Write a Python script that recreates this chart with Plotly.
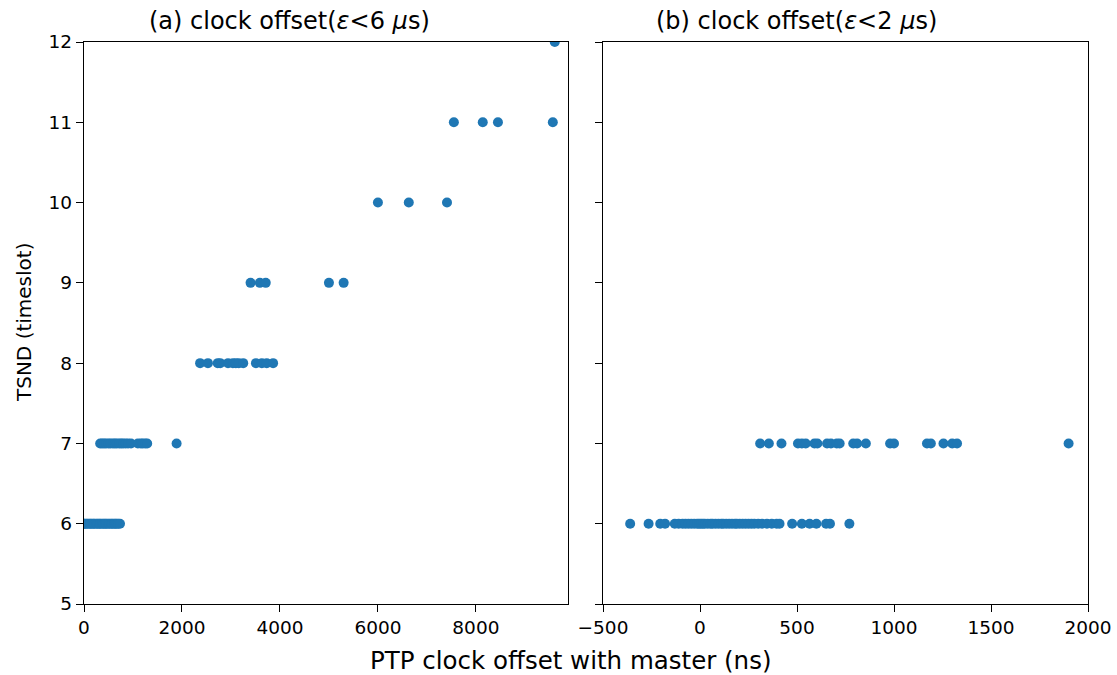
import plotly.graph_objects as go

# Panel (a): clock offset (ns) vs TSND (timeslot)
a_x = [0, 15, 45, 70, 105, 130, 160, 190, 215, 250, 280, 310, 335, 370, 400, 430, 455, 490, 520, 555, 580, 615, 640, 670, 700, 735,
       330, 370, 410, 450, 500, 540, 590, 630, 670, 720, 760, 800, 850, 900, 960, 1100, 1160, 1200, 1250, 1290, 1890,
       2370, 2530, 2730, 2780, 2940, 3040, 3100, 3160, 3250, 3510, 3630, 3730, 3860,
       3400, 3590, 3710, 5000, 5300,
       6000, 6630, 7410,
       7550, 8140, 8450, 9570,
       9610]
a_y = [6] * 26 + [7] * 21 + [8] * 13 + [9] * 5 + [10] * 3 + [11] * 4 + [12]

# Panel (b)
b_x = [-360, -265, -205, -180, -130, -110, -90, -75, -60, -45, -30, -15, -5, 5, 15, 25, 40, 55, 65, 80, 95, 110, 120, 135,
       150, 165, 180, 190, 205, 220, 235, 250, 265, 280, 300, 320, 345, 370, 395, 410, 475, 525, 565, 600, 650, 670, 770,
       310, 355, 420, 505, 525, 545, 590, 605, 655, 675, 705, 720, 790, 810, 855, 980, 1000, 1170, 1190, 1255, 1300, 1325, 1900]
b_y = [6] * 47 + [7] * 23

W, H = 1117, 675
L1, R1, L2, R2 = 84, 568, 603, 1088
T, B = 42, 604

color = "#1f77b4"
font = "DejaVu Sans"

fig = go.Figure()
fig.add_trace(go.Scatter(x=a_x, y=a_y, mode="markers", xaxis="x", yaxis="y",
                         marker=dict(color=color, size=10, line=dict(width=0)), showlegend=False, cliponaxis=True))
fig.add_trace(go.Scatter(x=b_x, y=b_y, mode="markers", xaxis="x2", yaxis="y2",
                         marker=dict(color=color, size=10, line=dict(width=0)), showlegend=False, cliponaxis=True))

axis_common = dict(showline=True, linecolor="black", linewidth=1.4, mirror=True, ticks="outside", ticklen=7,
                   tickwidth=1.3, tickcolor="black", showgrid=False, zeroline=False, automargin=False,
                   tickfont=dict(family=font, size=18.5, color="black"))

fig.update_layout(
    width=W, height=H, margin=dict(l=0, r=0, t=0, b=0),
    paper_bgcolor="white", plot_bgcolor="white",
    xaxis=dict(domain=[L1 / W, R1 / W], range=[0, 9880], tickvals=[0, 2000, 4000, 6000, 8000], anchor="y", **axis_common),
    yaxis=dict(domain=[1 - B / H, 1 - T / H], range=[5, 12], dtick=1, anchor="x", **axis_common),
    xaxis2=dict(domain=[L2 / W, R2 / W], range=[-500, 2000], tickvals=[-500, 0, 500, 1000, 1500, 2000],
                ticktext=["\u2212500", "0", "500", "1000", "1500", "2000"], anchor="y2", **axis_common),
    yaxis2=dict(domain=[1 - B / H, 1 - T / H], range=[5, 12], dtick=1, anchor="x2", showticklabels=False, **axis_common),
    annotations=[
        dict(text="(a) clock offset(<i>ε</i><6 <i>μ</i>s)", x=289 / W, y=1 - 21 / H, xref="paper", yref="paper",
             showarrow=False, font=dict(family=font, size=24, color="black"), xanchor="center", yanchor="middle"),
        dict(text="(b) clock offset(<i>ε</i><2 <i>μ</i>s)", x=796 / W, y=1 - 21 / H, xref="paper", yref="paper",
             showarrow=False, font=dict(family=font, size=24, color="black"), xanchor="center", yanchor="middle"),
        dict(text="PTP clock offset with master (ns)", x=570 / W, y=1 - 660 / H, xref="paper", yref="paper",
             showarrow=False, font=dict(family=font, size=24.5, color="black"), xanchor="center", yanchor="middle"),
        dict(text="TSND (timeslot)", x=24 / W, y=1 - 323 / H, xref="paper", yref="paper", textangle=-90,
             showarrow=False, font=dict(family=font, size=20, color="black"), xanchor="center", yanchor="middle"),
    ],
)

fig.write_html("out.html")
